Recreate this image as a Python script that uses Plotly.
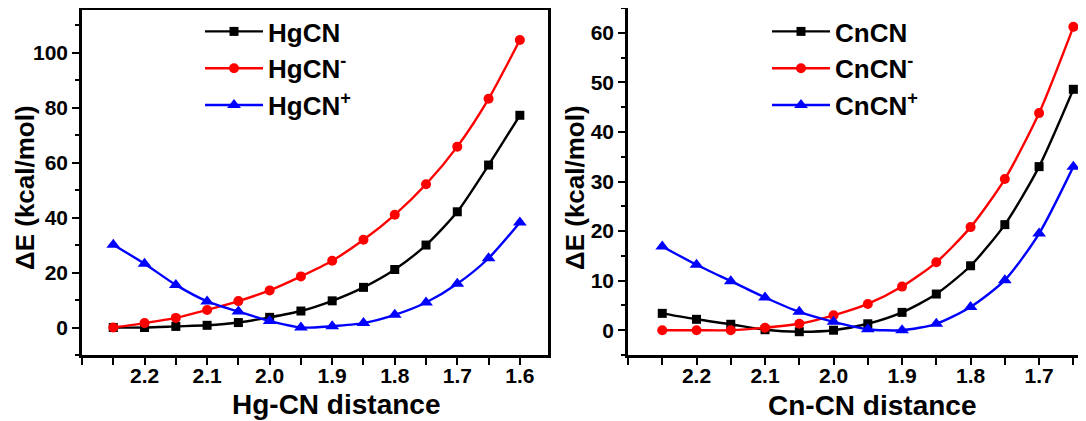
import plotly.graph_objects as go

# ---- data ----
x_hg = [2.25, 2.20, 2.15, 2.10, 2.05, 2.00, 1.95, 1.90, 1.85, 1.80, 1.75, 1.70, 1.65, 1.60]
hgcn = [0.0, 0.0, 0.4, 0.8, 1.8, 3.7, 6.0, 9.7, 14.6, 21.1, 30.0, 42.1, 59.1, 77.2]
hgcn_minus = [0.0, 1.6, 3.5, 6.4, 9.6, 13.5, 18.6, 24.3, 31.9, 41.0, 52.1, 65.8, 83.2, 104.6]
hgcn_plus = [30.1, 23.2, 15.5, 9.5, 5.8, 2.4, 0.0, 0.5, 1.6, 4.6, 9.1, 15.9, 25.2, 38.2]

x_cn = [2.25, 2.20, 2.15, 2.10, 2.05, 2.00, 1.95, 1.90, 1.85, 1.80, 1.75, 1.70, 1.65]
cncn = [3.4, 2.2, 1.2, 0.1, -0.3, 0.0, 1.3, 3.6, 7.3, 13.0, 21.3, 33.0, 48.6]
cncn_minus = [0.0, 0.0, 0.0, 0.5, 1.3, 3.0, 5.3, 8.8, 13.7, 20.8, 30.5, 43.8, 61.2]
cncn_plus = [16.9, 13.2, 9.9, 6.6, 3.7, 1.7, 0.2, 0.0, 1.3, 4.7, 10.1, 19.5, 33.0]

x_major_ticks = [2.2, 2.1, 2.0, 1.9, 1.8, 1.7, 1.6]
x_tick_labels = ["2.2", "2.1", "2.0", "1.9", "1.8", "1.7", "1.6"]
x_minor_ticks = [2.3, 2.25, 2.15, 2.05, 1.95, 1.85, 1.75, 1.65]

y_title = "ΔE (kcal/mol)"
x_title_left = "Hg-CN distance"
x_title_right = "Cn-CN distance"

FONT = "Arial, Liberation Sans, sans-serif"
BLACK, RED, BLUE = "#000000", "#ff0000", "#0000ff"

# page body has an 8px margin: figure is placed at (8, 8)
OFF = 8
FW, FH = 1078, 413


def px(X):
    return (X - OFF) / FW


def py(Y):
    return 1 - (Y - OFF) / FH


fig = go.Figure()


def add_series(x, y, name, color, symbol, size, xa, ya, legend):
    fig.add_trace(go.Scatter(
        x=x, y=y, name=name, mode="lines+markers",
        line=dict(color=color, width=2.4, shape="spline", smoothing=0.7),
        marker=dict(color=color, symbol=symbol, size=size),
        xaxis=xa, yaxis=ya, legend=legend,
    ))


add_series(x_hg, hgcn, "HgCN", BLACK, "square", 9, "x", "y", "legend")
add_series(x_hg, hgcn_minus, "HgCN<sup><b>-</b></sup>", RED, "circle", 10, "x", "y", "legend")
add_series(x_hg, hgcn_plus, "HgCN<sup>+</sup>", BLUE, "triangle-up", 12, "x", "y", "legend")

add_series(x_cn, cncn, "CnCN", BLACK, "square", 9, "x2", "y2", "legend2")
add_series(x_cn, cncn_minus, "CnCN<sup><b>-</b></sup>", RED, "circle", 10, "x2", "y2", "legend2")
add_series(x_cn, cncn_plus, "CnCN<sup>+</sup>", BLUE, "triangle-up", 12, "x2", "y2", "legend2")


def xaxis(domain, rng, anchor):
    return dict(
        domain=domain, range=rng, autorange=False, anchor=anchor, automargin=False,
        tickmode="array", tickvals=x_major_ticks, ticktext=x_tick_labels,
        ticks="outside", ticklen=7, tickwidth=2, tickcolor="black",
        minor=dict(tickmode="array", tickvals=x_minor_ticks, ticks="outside",
                   ticklen=7, tickwidth=2, tickcolor="black"),
        ticklabelstandoff=-7,
        showline=True, linewidth=2.5, linecolor="black", mirror=True,
        showgrid=False, zeroline=False,
        tickfont=dict(family=FONT, size=21, color="black", weight="bold"),
    )


def yaxis(domain, rng, dtick, anchor):
    return dict(
        domain=domain, range=rng, autorange=False, anchor=anchor, automargin=False,
        tick0=0, dtick=dtick,
        ticks="outside", ticklen=7, tickwidth=2, tickcolor="black",
        minor=dict(dtick=dtick / 2, tick0=0, ticks="outside", ticklen=4, tickwidth=2, tickcolor="black"),
        showline=True, linewidth=2.5, linecolor="black", mirror=True,
        showgrid=False, zeroline=False,
        tickfont=dict(family=FONT, size=21, color="black", weight="bold"),
    )


title_font = dict(family=FONT, size=28, color="black", weight="bold")
ytitle_font = dict(family=FONT, size=26, color="black", weight="bold")

annotations = [
    dict(text=x_title_left, x=px(336), y=py(404), xref="paper", yref="paper",
         xanchor="center", yanchor="middle", showarrow=False, font=title_font),
    dict(text=x_title_right, x=px(872), y=py(405), xref="paper", yref="paper",
         xanchor="center", yanchor="middle", showarrow=False, font=title_font),
    dict(text=y_title, x=px(25), y=py(188), xref="paper", yref="paper", textangle=-90,
         xanchor="center", yanchor="middle", showarrow=False, font=ytitle_font),
    dict(text=y_title, x=px(575), y=py(188), xref="paper", yref="paper", textangle=-90,
         xanchor="center", yanchor="middle", showarrow=False, font=ytitle_font),
]

fig.update_layout(
    width=FW, height=FH,
    margin=dict(l=0, r=0, t=0, b=0),
    paper_bgcolor="white", plot_bgcolor="white",
    showlegend=True,
    xaxis=xaxis([px(82), px(548)], [2.30, 1.555], "y"),
    yaxis=yaxis([py(355), py(10)], [-10, 115.5], 20, "x"),
    xaxis2=xaxis([px(628), min(px(1085), 1.0)], [2.30, 1.633], "y2"),
    yaxis2=yaxis([py(355), py(8)], [-5, 65], 10, "x2"),
    annotations=annotations,
    legend=dict(x=px(200), y=py(8), xanchor="left", yanchor="top",
                bgcolor="rgba(0,0,0,0)", itemwidth=58,
                font=dict(family=FONT, size=26, color="black", weight="bold")),
    legend2=dict(x=px(767), y=py(8), xanchor="left", yanchor="top",
                 bgcolor="rgba(0,0,0,0)", itemwidth=58,
                 font=dict(family=FONT, size=26, color="black", weight="bold")),
)

fig.write_html("out.html")
